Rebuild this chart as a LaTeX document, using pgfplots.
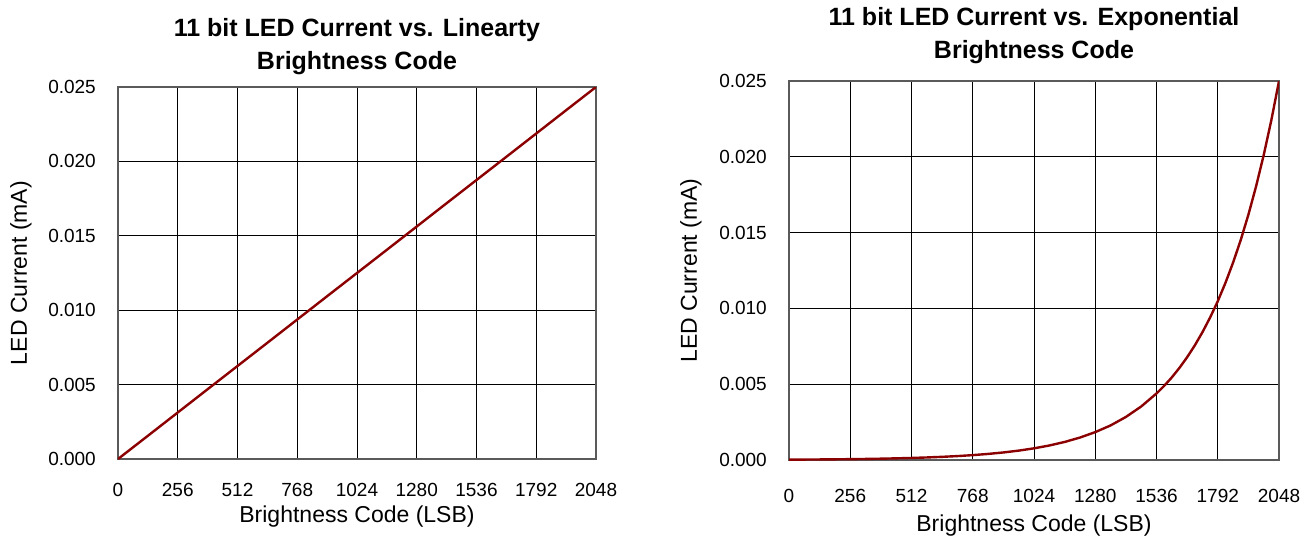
\documentclass[border=0pt]{standalone}
\usepackage{fontspec}
\setmainfont{Liberation Sans}
\usepackage{pgfplots}
\pgfplotsset{compat=1.18}
\definecolor{curvered}{RGB}{139,0,0}
\definecolor{boxgray}{RGB}{90,90,90}
\pgfplotsset{
  ledstyle/.style={
    scale only axis, anchor=south west,
    xmin=0, xmax=2048, ymin=0, ymax=0.025,
    xtick={0,256,512,768,1024,1280,1536,1792,2048},
    ytick={0,0.005,0.01,0.015,0.02,0.025},
    grid=major,
    major grid style={draw=black, line width=1pt},
    axis line style={draw=boxgray, line width=1.4pt},
    major tick length=0pt,
    tick style={draw=none},
    scaled y ticks=false,
    scaled x ticks=false,
    /pgf/number format/assume math mode=true,
    yticklabel style={/pgf/number format/.cd, fixed, fixed zerofill, precision=3, /tikz/.cd,
      anchor=east, inner sep=0pt, xshift=-22pt, font=\fontsize{19}{22}\selectfont},
    xticklabel style={/pgf/number format/.cd, fixed, 1000 sep={}, /tikz/.cd,
      anchor=base, inner sep=0pt, font=\fontsize{19}{22}\selectfont},
    xlabel={Brightness Code (LSB)},
    ylabel={LED Current (mA)},
    xlabel style={at={(axis description cs:0.5,0)}, anchor=base, inner sep=0pt, font=\fontsize{23}{26}\selectfont},
    ylabel style={at={(axis description cs:0,0.5)}, anchor=center, inner sep=0pt, font=\fontsize{23}{26}\selectfont},
    title style={at={(axis description cs:0.5,1)}, anchor=south, align=center, inner sep=0pt,
      font=\fontsize{25}{33}\selectfont\bfseries},
  },
  ledcurve/.style={draw=curvered, line width=2.4pt, mark=none, line join=round},
}
\begin{document}
\begin{tikzpicture}
\path (0pt,0pt) rectangle (1312pt,-541pt);
\begin{axis}[ledstyle,
  at={(118pt,-459pt)}, width=478pt, height=372pt,
  xticklabel style={yshift=-37pt},
  xlabel style={yshift=-63pt},
  ylabel style={yshift=97pt},
  title style={yshift=6pt},
  title={11 bit LED Current vs. Linearty\\Brightness Code}]
\addplot[ledcurve] coordinates {
(0,0) (128,0.00156) (256,0.003125) (384,0.00469) (512,0.00625) (640,0.00781)
(768,0.009375) (896,0.01094) (1024,0.0125) (1152,0.01406) (1280,0.015625)
(1408,0.01719) (1536,0.01875) (1664,0.02031) (1792,0.021875) (1920,0.02344) (2048,0.025)
};
\end{axis}
\begin{axis}[ledstyle,
  at={(789pt,-460pt)}, width=490pt, height=379pt,
  xticklabel style={yshift=-42pt},
  xlabel style={yshift=-71pt},
  ylabel style={yshift=98pt},
  title style={yshift=11pt},
  title={11 bit LED Current vs. Exponential\\Brightness Code}]
\addplot[ledcurve] coordinates {
(0,0.0000237) (64,0.0000294) (128,0.0000366) (192,0.0000455) (256,0.0000565)
(320,0.0000702) (384,0.0000873) (448,0.000109) (512,0.000135) (576,0.000168)
(640,0.000209) (704,0.000259) (768,0.000322) (832,0.000401) (896,0.000498)
(960,0.000619) (1024,0.000770) (1088,0.000957) (1152,0.00119) (1216,0.00148)
(1280,0.00184) (1344,0.00228) (1408,0.00284) (1472,0.00353) (1536,0.00439)
(1568,0.00489) (1600,0.00545) (1632,0.00608) (1664,0.00678) (1696,0.00756)
(1728,0.00843) (1760,0.00940) (1792,0.01047) (1824,0.01168) (1856,0.01302)
(1888,0.01451) (1920,0.01618) (1952,0.01804) (1984,0.02011) (2016,0.02242)
(2048,0.025)
};
\end{axis}
\end{tikzpicture}
\end{document}
